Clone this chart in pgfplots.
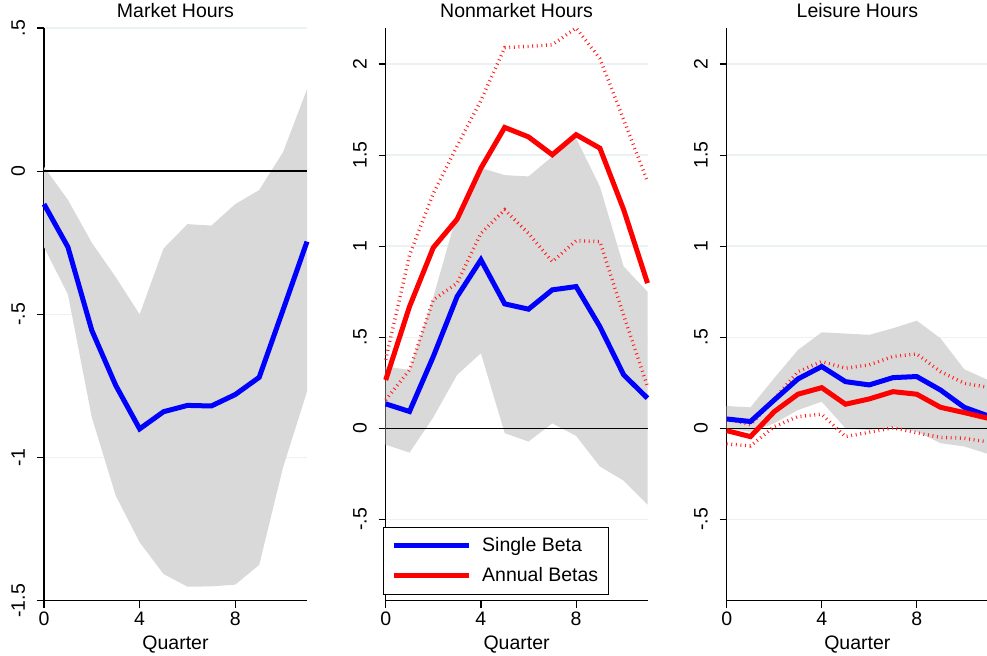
\documentclass[border=0pt]{standalone}
\usepackage{fontspec}
\setmainfont{Liberation Sans}
\usepackage{pgfplots}
\pgfplotsset{compat=1.18}

\definecolor{band}{RGB}{217,217,217}
\definecolor{gridc}{RGB}{234,242,243}
\definecolor{dotred}{RGB}{255,30,30}

\pgfplotsset{
  panel/.style={
    scale only axis, anchor=south west,
    height=286.35pt,
    xmin=0, xmax=11,
    axis x line*=bottom, axis y line*=left,
    axis line style={black, line width=0.6pt},
    tick align=outside, major tick length=3.5pt,
    tick style={black, line width=0.6pt},
    xtick={0,4,8}, xticklabels={0,4,8},
    ymajorgrids, grid style={gridc, line width=0.7pt},
    title style={at={(0.5,1)}, anchor=base, yshift=-0.8pt, inner sep=0pt},
    xlabel={Quarter},
    xlabel style={at={(axis description cs:0.5,0)}, anchor=base, yshift=-24.6pt, inner sep=0pt},
    yticklabel style={rotate=90, anchor=south, inner xsep=0pt, inner ysep=5.8pt},
    xticklabel style={inner sep=2pt},
    clip=false,
  },
  band/.style={fill=band, draw=none, forget plot},
  zero/.style={black, line width=0.75pt, forget plot},
  sb/.style={blue, line width=2.5pt},
  ab/.style={red, line width=2.5pt},
  ci/.style={dotred, line width=1.7pt, dash pattern=on 0.45pt off 1.85pt, forget plot},
}

\begin{document}
\fontsize{9.75pt}{11.7pt}\selectfont
\begin{tikzpicture}
\path[use as bounding box] (0,0) rectangle (493.5pt,327.5pt);

% Panel 1: Market Hours
\begin{axis}[panel, at={(22pt,27.15pt)}, width=131.5pt,
  ymin=-1.5, ymax=0.5,
  ytick={-1.5,-1,-0.5,0,0.5}, yticklabels={-1.5,-1,-.5,0,.5},
  title={Market Hours}]
\addplot[band] coordinates {
 (0,0.015) (1,-0.10) (2,-0.25) (3,-0.37) (4,-0.50) (5,-0.27) (6,-0.185) (7,-0.19) (8,-0.115) (9,-0.066) (10,0.067) (11,0.286)
 (11,-0.77) (10,-1.034) (9,-1.375) (8,-1.444) (7,-1.45) (6,-1.451) (5,-1.407) (4,-1.296) (3,-1.133) (2,-0.86) (1,-0.43) (0,-0.265)
} -- cycle;
\addplot[zero] coordinates {(0,0) (11,0)};
\addplot[sb] coordinates {
 (0,-0.115) (1,-0.265) (2,-0.556) (3,-0.748) (4,-0.90) (5,-0.84) (6,-0.818) (7,-0.82) (8,-0.78) (9,-0.72) (10,-0.484) (11,-0.246)
};
\end{axis}

% Panel 2: Nonmarket Hours
\begin{axis}[panel, at={(192.85pt,27.15pt)}, width=130.9pt,
  ymin=-0.947, ymax=2.198,
  ytick={-0.5,0,0.5,1,1.5,2}, yticklabels={-.5,0,.5,1,1.5,2},
  title={Nonmarket Hours},
  legend style={at={(-0.0115,0.1292)}, anchor=north west, draw=black, line width=0.5pt,
    inner xsep=4pt, inner ysep=4pt, row sep=4.5pt, column sep=4.5pt,
    nodes={inner sep=1pt}},
  legend cell align=left,
  legend image code/.code={\draw[#1] (0pt,0pt) -- (37.5pt,0pt);}]
\addplot[band] coordinates {
 (0,0.339) (1,0.32) (2,0.72) (3,1.18) (4,1.43) (5,1.39) (6,1.383) (7,1.492) (8,1.593) (9,1.327) (10,0.888) (11,0.75)
 (11,-0.42) (10,-0.288) (9,-0.21) (8,-0.042) (7,0.027) (6,-0.073) (5,-0.027) (4,0.412) (3,0.293) (2,0.06) (1,-0.134) (0,-0.09)
} -- cycle;
\addplot[zero] coordinates {(0,0) (11,0)};
\addplot[ci] coordinates {
 (0,0.376) (1,0.95) (2,1.29) (3,1.55) (4,1.80) (5,2.09) (6,2.097) (7,2.106) (8,2.198) (9,2.03) (10,1.694) (11,1.355)
};
\addplot[ci] coordinates {
 (0,0.155) (1,0.32) (2,0.705) (3,0.797) (4,1.07) (5,1.2) (6,1.07) (7,0.915) (8,1.03) (9,1.025) (10,0.62) (11,0.229)
};
\addplot[sb] coordinates {
 (0,0.134) (1,0.092) (2,0.394) (3,0.723) (4,0.925) (5,0.683) (6,0.654) (7,0.76) (8,0.778) (9,0.558) (10,0.293) (11,0.165)
};
\addlegendentry{Single Beta}
\addplot[ab] coordinates {
 (0,0.265) (1,0.668) (2,0.992) (3,1.148) (4,1.428) (5,1.652) (6,1.60) (7,1.502) (8,1.612) (9,1.538) (10,1.2) (11,0.797)
};
\addlegendentry{Annual Betas}
\end{axis}

% Panel 3: Leisure Hours
\begin{axis}[panel, at={(363.35pt,27.15pt)}, width=130.65pt,
  ymin=-0.947, ymax=2.198,
  ytick={-0.5,0,0.5,1,1.5,2}, yticklabels={-.5,0,.5,1,1.5,2},
  title={Leisure Hours}]
\addplot[band] coordinates {
 (0,0.122) (1,0.115) (2,0.275) (3,0.43) (4,0.527) (5,0.52) (6,0.513) (7,0.549) (8,0.591) (9,0.494) (10,0.324) (11,0.265)
 (11,-0.141) (10,-0.10) (9,-0.082) (8,-0.018) (7,0.009) (6,-0.01) (5,0.0) (4,0.146) (3,0.10) (2,0.027) (1,-0.02) (0,0.0)
} -- cycle;
\addplot[zero] coordinates {(0,0) (11,0)};
\addplot[ci] coordinates {
 (0,0.05) (1,0.02) (2,0.16) (3,0.311) (4,0.366) (5,0.33) (6,0.348) (7,0.394) (8,0.408) (9,0.311) (10,0.247) (11,0.225)
};
\addplot[ci] coordinates {
 (0,-0.086) (1,-0.097) (2,0.009) (3,0.064) (4,0.077) (5,-0.046) (6,-0.022) (7,0.003) (8,-0.025) (9,-0.05) (10,-0.055) (11,-0.075)
};
\addplot[sb] coordinates {
 (0,0.051) (1,0.037) (2,0.155) (3,0.271) (4,0.339) (5,0.256) (6,0.238) (7,0.278) (8,0.284) (9,0.21) (10,0.115) (11,0.068)
};
\addplot[ab] coordinates {
 (0,-0.013) (1,-0.046) (2,0.091) (3,0.187) (4,0.223) (5,0.132) (6,0.161) (7,0.201) (8,0.187) (9,0.115) (10,0.086) (11,0.055)
};
\end{axis}
\end{tikzpicture}
\end{document}
